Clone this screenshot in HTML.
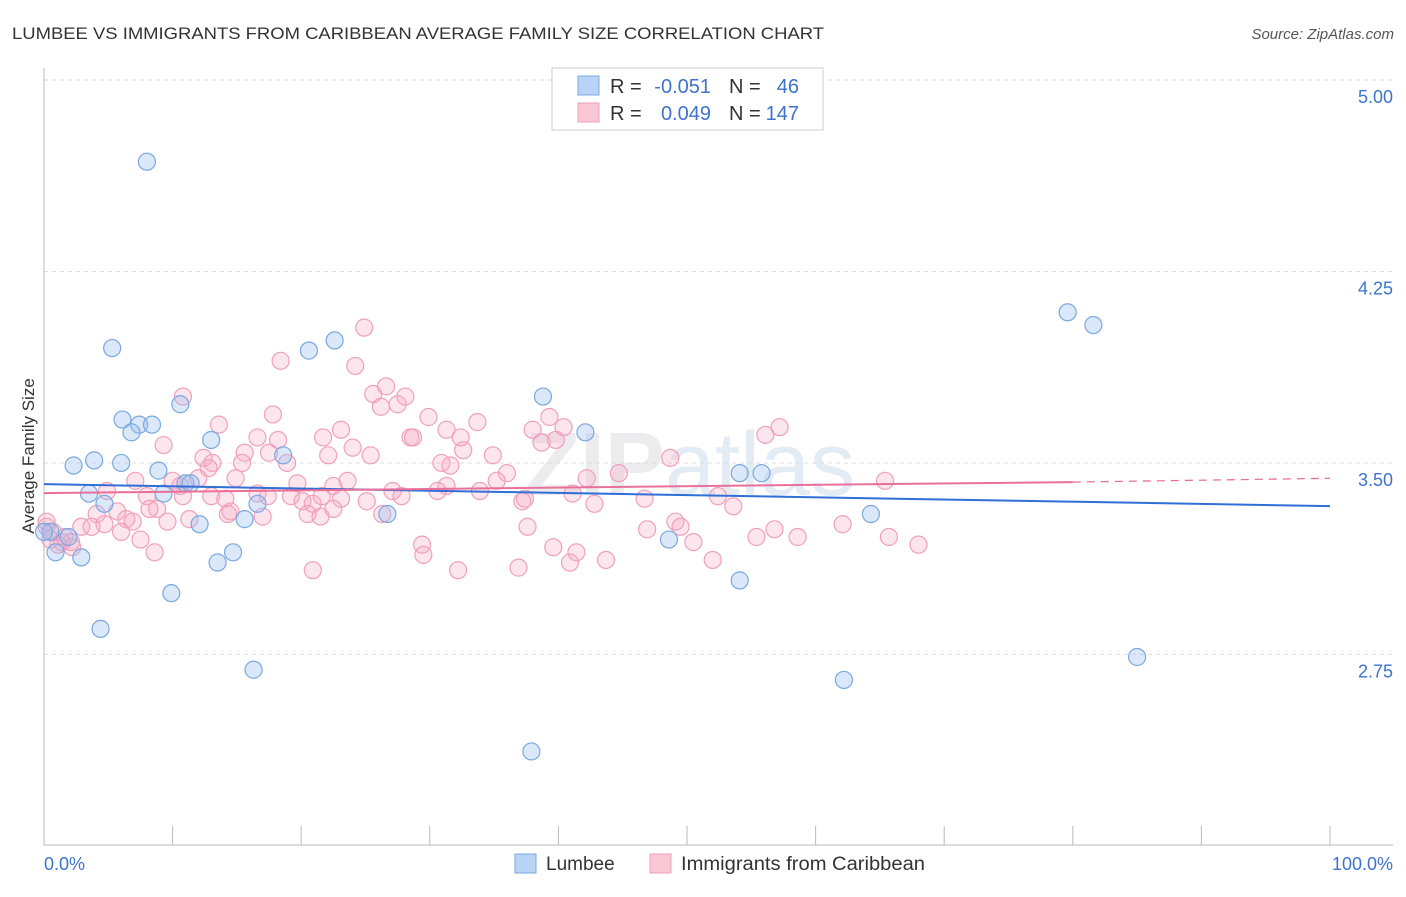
<!DOCTYPE html>
<html><head><meta charset="utf-8"><style>
body{margin:0;background:#fff;font-family:"Liberation Sans",sans-serif;}
svg text{font-family:"Liberation Sans",sans-serif;}
</style></head><body>
<svg id="chart" width="1406" height="892" xmlns="http://www.w3.org/2000/svg">
<text x="12" y="39" font-size="17" fill="#333" textLength="812" lengthAdjust="spacingAndGlyphs">LUMBEE VS IMMIGRANTS FROM CARIBBEAN AVERAGE FAMILY SIZE CORRELATION CHART</text>
<text x="1394" y="39" font-size="15" fill="#555" text-anchor="end" font-style="italic">Source: ZipAtlas.com</text>
<text x="690" y="495" font-size="90" fill="#ececef" text-anchor="middle" font-weight="bold">ZIP<tspan font-weight="normal" fill="#e3ebf5">atlas</tspan></text>
<g id="grid"></g>
<g id="axes"></g>
<text transform="translate(34,456) rotate(-90)" font-size="17" fill="#333" text-anchor="middle">Average Family Size</text>
<g id="points"></g>
<g id="lines"></g>
<g>
<rect x="552" y="68" width="271" height="62" fill="#fff" stroke="#ccc"/>
<rect x="578" y="76" width="21" height="19" fill="#b8d3f5" stroke="#7aa8e0"/>
<rect x="578" y="103" width="21" height="19" fill="#f9c7d6" stroke="#f0a0bb"/>
<text x="610" y="93" font-size="20" fill="#333">R =</text>
<text x="711" y="93" font-size="20" fill="#3d73cf" text-anchor="end">-0.051</text>
<text x="729" y="93" font-size="20" fill="#333">N =</text>
<text x="799" y="93" font-size="20" fill="#3d73cf" text-anchor="end">46</text>
<text x="610" y="120" font-size="20" fill="#333">R =</text>
<text x="711" y="120" font-size="20" fill="#3d73cf" text-anchor="end">0.049</text>
<text x="729" y="120" font-size="20" fill="#333">N =</text>
<text x="799" y="120" font-size="20" fill="#3d73cf" text-anchor="end">147</text>
</g>
<g>
<rect x="515" y="854" width="21" height="19" fill="#b8d3f5" stroke="#7aa8e0"/>
<text x="546" y="870" font-size="19" fill="#333">Lumbee</text>
<rect x="650" y="854" width="21" height="19" fill="#f9c7d6" stroke="#f0a0bb"/>
<text x="681" y="870" font-size="19" fill="#333" textLength="244" lengthAdjust="spacingAndGlyphs">Immigrants from Caribbean</text>
</g>
<text x="44" y="870" font-size="18" fill="#3d73cf">0.0%</text>
<text x="1393" y="870" font-size="18" fill="#3d73cf" text-anchor="end">100.0%</text>
</svg>
<script>
const yTicks=[5.00,4.25,3.50,2.75];
const yTickLabels=["5.00","4.25","3.50","2.75"];
const xTicks=[0,10,20,30,40,50,60,70,80,90,100];
const lumbeeX=[8.0,5.3,20.6,22.6,10.6,6.1,7.4,8.4,6.8,13.0,2.3,3.9,6.0,8.9,18.6,11.0,11.4,9.3,3.5,4.7,16.6,15.6,12.1,14.7,13.5,9.9,4.4,16.3,26.7,38.8,42.1,54.1,55.8,48.6,54.1,64.3,62.2,79.6,81.6,85.0,37.9,0.5,0.9,1.9,2.9,0.0];
const lumbeeY=[4.68,3.95,3.94,3.98,3.73,3.67,3.65,3.65,3.62,3.59,3.49,3.51,3.50,3.47,3.53,3.42,3.42,3.38,3.38,3.34,3.34,3.28,3.26,3.15,3.11,2.99,2.85,2.69,3.30,3.76,3.62,3.46,3.46,3.20,3.04,3.30,2.65,4.09,4.04,2.74,2.37,3.23,3.15,3.21,3.13,3.23];
const caribPx=[[364,327],[281,361],[355,367],[183,396],[373,393],[386,386],[405,397],[398,405],[381,408],[273,415],[219,425],[429,418],[477,421],[549,418],[563,426],[533,431],[556,440],[780,428],[765,435],[323,437],[341,429],[258,437],[278,441],[410,437],[413,437],[447,431],[461,438],[463,451],[542,442],[163,446],[244,452],[269,453],[204,459],[212,462],[208,469],[287,464],[328,456],[353,448],[371,456],[493,455],[670,459],[441,463],[451,466],[242,464],[507,472],[619,472],[587,478],[135,481],[173,481],[198,477],[180,487],[235,478],[297,483],[333,485],[348,482],[446,487],[480,490],[497,480],[885,480],[107,491],[147,497],[183,497],[211,495],[225,499],[257,493],[268,497],[291,496],[302,502],[313,503],[322,495],[341,498],[367,501],[392,492],[402,495],[438,492],[525,498],[522,500],[573,494],[595,504],[644,499],[718,496],[733,507],[97,515],[117,512],[126,520],[133,521],[157,509],[167,521],[150,509],[189,520],[228,513],[231,511],[262,516],[307,514],[320,516],[333,510],[382,514],[81,527],[92,526],[104,523],[121,531],[140,540],[46,528],[53,533],[62,542],[71,541],[72,547],[528,528],[647,530],[676,522],[681,527],[757,536],[774,530],[797,536],[843,525],[889,536],[919,545],[694,541],[422,545],[424,555],[553,546],[577,553],[155,553],[313,571],[458,571],[518,567],[570,563],[606,561],[713,560],[47,522],[50,540],[58,545],[64,538]];
const caribX=caribPx.map(p=>+((p[0]-44)/12.86).toFixed(1));
const caribY=caribPx.map(p=>+(5-(p[1]-80)/255.3).toFixed(2));
const lumbeeTrend=[3.417,3.331];
const caribTrend=[3.382,3.425,3.44];
const X0=44,X1=1330,Y5=80,PPU=255.3;
function sx(v){return X0+(X1-X0)*v/100;}
function sy(v){return Y5+(5-v)*PPU;}
const NS="http://www.w3.org/2000/svg";
function mk(tag,attrs,parent){const e=document.createElementNS(NS,tag);for(const k in attrs)e.setAttribute(k,attrs[k]);parent.appendChild(e);return e;}
const grid=document.getElementById('grid'),axes=document.getElementById('axes'),pts=document.getElementById('points'),lines=document.getElementById('lines');
yTicks.forEach((t,i)=>{
 const l=mk('line',{x1:44,x2:1393,y1:sy(t),y2:sy(t),stroke:'#ddd','stroke-dasharray':'4,4'},grid);
 
 
 const tx=mk('text',{x:1393,y:sy(t)+23,'font-size':18,fill:'#3d73cf','text-anchor':'end'},axes);
 tx.textContent=yTickLabels[i];
 
 
});
const ax=mk('line',{x1:44,x2:44,y1:68,y2:845,stroke:'#bbb'},axes);


const bx=mk('line',{x1:44,x2:1393,y1:845,y2:845,stroke:'#bbb'},axes);


xTicks.forEach(t=>{
 const l=mk('line',{x1:sx(t),x2:sx(t),y1:826,y2:845,stroke:'#bbb'},axes);
 
 
});
caribX.forEach((x,i)=>{
 const c=mk('circle',{cx:sx(x),cy:sy(caribY[i]),r:8.5,fill:'rgba(248,170,195,0.3)',stroke:'#f0a0bb','stroke-width':1.2},pts);
 
 
});
lumbeeX.forEach((x,i)=>{
 const c=mk('circle',{cx:sx(x),cy:sy(lumbeeY[i]),r:8.5,fill:'rgba(150,190,240,0.35)',stroke:'#7aa8e0','stroke-width':1.2},pts);
 
 
});
const lb=mk('line',{x1:sx(0),x2:sx(100),y1:sy(lumbeeTrend[0]),y2:sy(lumbeeTrend[1]),stroke:'#2f6fd6','stroke-width':2},lines);


const lp=mk('line',{x1:sx(0),x2:sx(80),y1:sy(caribTrend[0]),y2:sy(caribTrend[1]),stroke:'#e8709a','stroke-width':2},lines);


const lpd=mk('line',{x1:sx(80),x2:sx(100),y1:sy(caribTrend[1]),y2:sy(caribTrend[2]),stroke:'#e8709a','stroke-width':1.3,'stroke-dasharray':'8,6'},lines);


</script>
</body></html>
